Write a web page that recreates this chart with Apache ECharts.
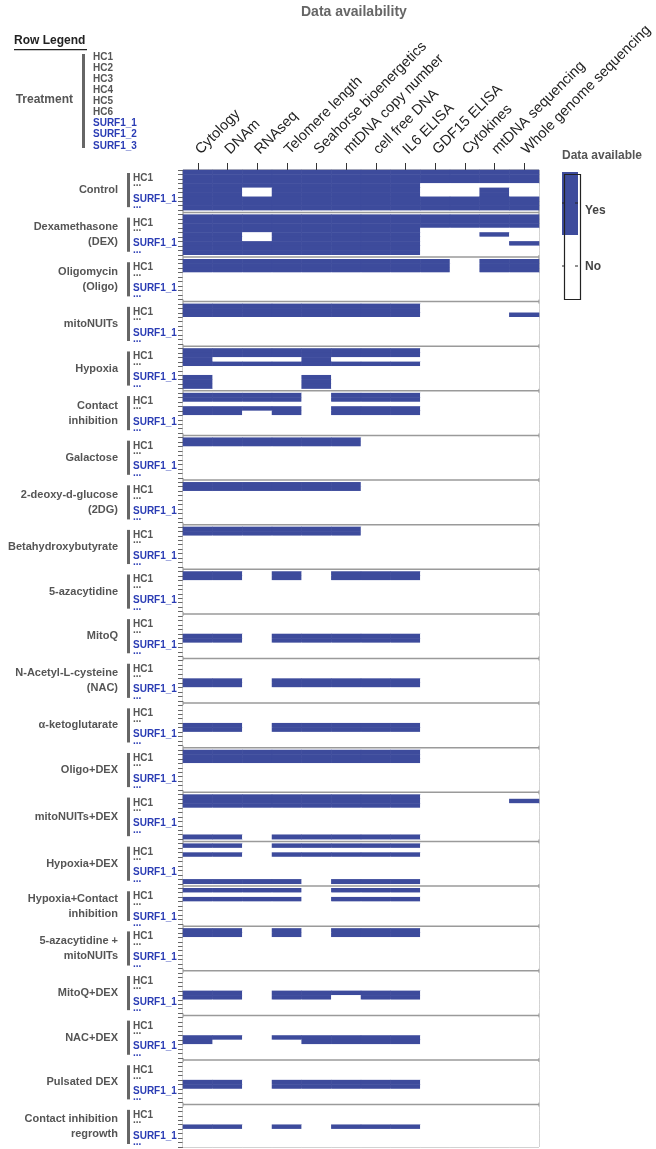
<!DOCTYPE html>
<html><head><meta charset="utf-8">
<script src="https://cdn.jsdelivr.net/npm/echarts@6/dist/echarts.min.js"></script>
<style>html,body{margin:0;padding:0;background:#fff}#c{width:656px;height:1149px}</style>
</head><body><div id="c"></div>
<script>
// ---------- data ----------
const columns = ['Cytology','DNAm','RNAseq','Telomere length','Seahorse bioenergetics','mtDNA copy number','cell free DNA','IL6 ELISA','GDF15 ELISA','Cytokines','mtDNA sequencing','Whole genome sequencing'];
const groups = ['Control','Dexamethasone\n(DEX)','Oligomycin\n(Oligo)','mitoNUITs','Hypoxia','Contact\ninhibition','Galactose','2-deoxy-d-glucose\n(2DG)','Betahydroxybutyrate','5-azacytidine','MitoQ','N-Acetyl-L-cysteine\n(NAC)','α-ketoglutarate','Oligo+DEX','mitoNUITs+DEX','Hypoxia+DEX','Hypoxia+Contact\ninhibition','5-azacytidine +\nmitoNUITs','MitoQ+DEX','NAC+DEX','Pulsated DEX','Contact inhibition\nregrowth'];
const sampleLegend = ['HC1','HC2','HC3','HC4','HC5','HC6','SURF1_1','SURF1_2','SURF1_3'];
const legendLevels = ['Yes','No'];
const Z = '000000000000';
// one string per sample row, one character per column (1 = data available)
const availControl = ['111111111111','111111111111','111111111111','111111110000','110111110010','110111110010','111111111111','111111111111','111111111111'];
const availDEX = ['111111111111','111111111111','111111111111','111111110000','110111110010','110111110000','111111110001','111111110000','111111110000'];
const availOligo = ['111111111011','111111111011','111111111011',Z,Z,Z,Z,Z,Z];
const availMitoNUITs = ['111111110000','111111110000','111111110001',Z,Z,Z,Z,Z,Z];
const availHypoxia = ['111111110000','111111110000','100010000000','111111110000',Z,Z,'100010000000','100010000000','100010000000'];
const availContact = ['111101110000','111101110000',Z,'111101110000','110101110000',Z,Z,Z,Z];
const availGalactose = ['111111000000','111111000000',Z,Z,Z,Z,Z,Z,Z];
const avail2DG = ['111111000000','111111000000',Z,Z,Z,Z,Z,Z,Z];
const availBHB = ['111111000000','111111000000',Z,Z,Z,Z,Z,Z,Z];
const availAza = ['110101110000','110101110000',Z,Z,Z,Z,Z,Z,Z];
const availMitoQ = [Z,Z,Z,Z,'110111110000','110111110000',Z,Z,Z];
const availNAC = [Z,Z,Z,Z,'110111110000','110111110000',Z,Z,Z];
const availAKG = [Z,Z,Z,Z,'110111110000','110111110000',Z,Z,Z];
const availOligoDEX = ['111111110000','111111110000','111111110000',Z,Z,Z,Z,Z,Z];
const availMitoNUITsDEX = ['111111110000','111111110001','111111110000',Z,Z,Z,Z,Z,Z,'110111110000'];
const availHypoxiaDEX = ['110111110000',Z,'110111110000',Z,Z,Z,Z,Z,'111101110000'];
const availHypoxiaContact = ['111101110000',Z,'111101110000',Z,Z,Z,Z,Z];
const availAzaMitoNUITs = ['110101110000','110101110000',Z,Z,Z,Z,Z,Z,Z];
const availMitoQDEX = [Z,Z,Z,Z,'110111110000','110110110000',Z,Z,Z];
const availNACDEX = [Z,Z,Z,Z,'110111110000','100011110000',Z,Z,Z];
const availPulsated = [Z,Z,Z,Z,'110111110000','110111110000',Z,Z,Z];
const availRegrowth = [Z,Z,Z,Z,'110101110000',Z,Z,Z,Z];
const availability = [availControl,availDEX,availOligo,availMitoNUITs,availHypoxia,availContact,availGalactose,avail2DG,availBHB,availAza,availMitoQ,availNAC,availAKG,availOligoDEX,availMitoNUITsDEX,availHypoxiaDEX,availHypoxiaContact,availAzaMitoNUITs,availMitoQDEX,availNACDEX,availPulsated,availRegrowth];
// row label shown at a given row index inside each group
const rowLabelText = ['', 'HC1', '...', '', '', '', 'SURF1_1', '...', ''];
const rowLabelStyle = ['', 'g', 'gd', '', '', '', 'b', 'bd', ''];

// ---------- build ----------
const BLUE = '#3d4b9c';
const FONT = '"Liberation Sans", Arial, Helvetica, sans-serif';
const yCats = [], rowInfo = [], cells = [], groupSpans = [], gaps = [];
availability.forEach((rows, gi) => {
  const first = yCats.length;
  rows.forEach((s, ri) => {
    const yi = yCats.length;
    yCats.push('g' + gi + 'r' + ri);
    rowInfo.push({ gi, ri });
    for (let j = 0; j < columns.length; j++) cells.push([j, yi, s[j] === '1' ? 1 : 0]);
  });
  groupSpans.push([0, first, yCats.length - 1, gi]);
  if (gi < availability.length - 1) {
    gaps.push([0, yCats.length]);
    yCats.push('gap' + gi);
    rowInfo.push({ gap: true });
  }
});

const chart = echarts.init(document.getElementById('c'), null, { renderer: 'canvas' });
const option = {
  backgroundColor: '#fff',
  animation: false,
  title: { text: 'Data availability', left: 296, top: 0, textStyle: { fontFamily: FONT, fontSize: 14, fontWeight: 'bold', color: '#666' } },
  grid: { left: 183, top: 170, right: 117, bottom: 2, show: true, borderColor: '#888', borderWidth: 1, backgroundColor: 'transparent' },
  xAxis: {
    type: 'category', data: columns, position: 'top',
    axisLine: { show: false },
    axisTick: { show: true, alignWithLabel: true, length: 7, lineStyle: { color: '#333' } },
    axisLabel: { rotate: -45, interval: 0, fontSize: 14.5, color: '#222', margin: 18, fontFamily: FONT },
    splitLine: { show: false }
  },
  yAxis: {
    type: 'category', data: yCats, inverse: true,
    axisLine: { show: false },
    axisTick: { show: true, interval: 0, length: 5, lineStyle: { color: '#666' } },
    axisLabel: {
      interval: 0, margin: 50, align: 'left',
      formatter: (v, idx) => {
        const info = rowInfo[idx];
        if (!info || info.gap) return '';
        const t = rowLabelText[info.ri] || '';
        if (!t) return '';
        return '{' + rowLabelStyle[info.ri] + '|' + t + '}';
      },
      rich: {
        g: { color: '#555', fontWeight: 'bold', fontSize: 10, fontFamily: FONT, padding: [3, 0, 0, 0] },
        gd: { color: '#555', fontWeight: 'bold', fontSize: 10, fontFamily: FONT, padding: [5, 0, 0, 0] },
        b: { color: '#2a3cb4', fontWeight: 'bold', fontSize: 10, fontFamily: FONT },
        bd: { color: '#2a3cb4', fontWeight: 'bold', fontSize: 10, fontFamily: FONT, padding: [4, 0, 0, 0] }
      }
    },
    splitLine: { show: false }
  },
  visualMap: {
    type: 'piecewise', show: false, dimension: 2, seriesIndex: 0,
    pieces: [{ value: 0, color: '#ffffff' }, { value: 1, color: BLUE }]
  },
  series: [
    {
      type: 'heatmap', data: cells, itemStyle: { borderWidth: 0 }, emphasis: { disabled: true }, z: 2
    },
    {
      type: 'custom', data: gaps, encode: { x: 0, y: 1 }, clip: false, z: 3, silent: true,
      renderItem: (params, api) => {
        const p = api.coord([0, api.value(1)]);
        const q = api.coord([columns.length - 1, api.value(1)]);
        const sz = api.size([1, 1]);
        return { type: 'line', shape: { x1: p[0] - sz[0] / 2, y1: p[1], x2: q[0] + sz[0] / 2, y2: p[1] }, style: { stroke: '#9a9a9a', lineWidth: 1.5 } };
      }
    },
    {
      type: 'custom', data: groupSpans, encode: { x: 0, y: 1 }, clip: false, z: 3, silent: true,
      renderItem: (params, api) => {
        const a = api.coord([0, api.value(1)]);
        const b = api.coord([0, api.value(2)]);
        const sz = api.size([1, 1]);
        const left = a[0] - sz[0] / 2;
        const top = a[1] - sz[1] / 2 + 3, bot = b[1] + sz[1] / 2 - 3;
        const name = groups[api.value(3)];
        return {
          type: 'group', children: [
            { type: 'rect', shape: { x: left - 56, y: top, width: 3, height: bot - top }, style: { fill: '#666' } },
            { type: 'text', style: { text: name, x: left - 65, y: (top + bot) / 2, align: 'right', verticalAlign: 'middle', font: 'bold 11px ' + FONT, fill: '#555', lineHeight: 15 } }
          ]
        };
      }
    }
  ],
  graphic: [
    { type: 'text', left: 14, top: 35, style: { text: 'Row Legend', font: 'bold 12px ' + FONT, fill: '#222' } },
    { type: 'rect', left: 14, top: 49, shape: { width: 73, height: 1.2 }, style: { fill: '#222' } },
    { type: 'text', right: 656 - 73, top: 94, style: { text: 'Treatment', font: 'bold 12px ' + FONT, fill: '#555' } },
    { type: 'rect', left: 82, top: 54, shape: { width: 3, height: 94 }, style: { fill: '#666' } },
    ...sampleLegend.map((s, i) => ({ type: 'text', left: 93, top: 52 + i * 11.1, style: { text: s, font: 'bold 10px ' + FONT, fill: i < 6 ? '#555' : '#2a3cb4' } })),
    { type: 'text', left: 562, top: 150, style: { text: 'Data available', font: 'bold 12px ' + FONT, fill: '#555' } },
    { type: 'rect', left: 562, top: 172, shape: { width: 16, height: 63 }, style: { fill: BLUE } },
    { type: 'rect', left: 562, top: 172, shape: { width: 16, height: 125 }, style: { fill: 'none', stroke: '#222', lineWidth: 1.2 } },
    { type: 'line', shape: { x1: 562, y1: 203, x2: 565, y2: 203 }, style: { stroke: '#222', lineWidth: 1 } },
    { type: 'line', shape: { x1: 575, y1: 203, x2: 578, y2: 203 }, style: { stroke: '#222', lineWidth: 1 } },
    { type: 'line', shape: { x1: 562, y1: 266, x2: 565, y2: 266 }, style: { stroke: '#222', lineWidth: 1 } },
    { type: 'line', shape: { x1: 575, y1: 266, x2: 578, y2: 266 }, style: { stroke: '#222', lineWidth: 1 } },
    { type: 'text', left: 585, top: 205, style: { text: legendLevels[0], font: 'bold 12px ' + FONT, fill: '#444' } },
    { type: 'text', left: 585, top: 261, style: { text: legendLevels[1], font: 'bold 12px ' + FONT, fill: '#444' } }
  ]
};
chart.setOption(option);
</script>
</body></html>
